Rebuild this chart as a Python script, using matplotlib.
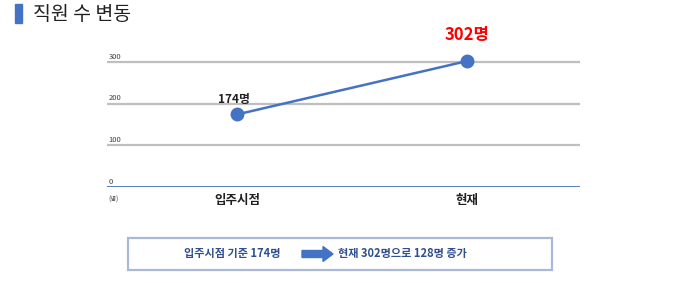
import matplotlib
matplotlib.use("Agg")
import matplotlib.pyplot as plt
from matplotlib.patches import Rectangle, FancyArrow

plt.rcParams['font.family'] = ['Noto Sans CJK KR', 'DejaVu Sans']

categories = ['입주시점', '현재']
values = [174, 302]
value_labels = ['174명', '302명']
yticks = [0, 100, 200, 300]
title = '직원 수 변동'
unit = '(명)'
summary_left = '입주시점 기준 174명'
summary_right = '현재 302명으로 128명 증가'

W, H = 680, 283
fig = plt.figure(figsize=(W/100, H/100), dpi=100)
fig.patch.set_facecolor('white')

ax_left, ax_right = 107, 580
y0_px = 187
per100 = 41.7
ymax = 330
top_px = y0_px - ymax/100*per100
ax = fig.add_axes([ax_left/W, 1 - y0_px/H, (ax_right-ax_left)/W, (y0_px-top_px)/H])
ax.set_ylim(0, ymax)
x0, x1 = 237, 467
unit_px = x1 - x0
ax.set_xlim(-(x0-ax_left)/unit_px, 1 + (ax_right-x1)/unit_px)
for s in ax.spines.values():
    s.set_visible(False)
ax.set_xticks([]); ax.set_yticks([])
ax.patch.set_alpha(0)

for t in yticks[1:]:
    ax.axhline(t, color='#BFBFBF', lw=1.6, zorder=1)
ax.axhline(0, color='#4472C4', lw=2, zorder=1)
for t in yticks:
    ax.annotate(str(t), xy=(0, t), xycoords=('axes fraction', 'data'),
                xytext=(1, 1), textcoords='offset points', fontsize=5.5,
                color='#404040', ha='left', va='bottom')
ax.annotate(unit, xy=(0, 0), xycoords=('axes fraction', 'data'),
            xytext=(1, -6), textcoords='offset points', fontsize=4.5,
            color='#404040', ha='left', va='top')

xs = list(range(len(categories)))
ax.plot(xs, values, color='#4472C4', lw=1.8, zorder=3)
ax.plot(xs, values, 'o', color='#4472C4', ms=9, zorder=4)
ax.annotate(value_labels[0], xy=(xs[0], values[0]), xytext=(-2, 6),
            textcoords='offset points', ha='center', va='bottom',
            fontsize=8.5, fontweight='bold', color='#202020')
ax.annotate(value_labels[1], xy=(xs[1], values[1]), xytext=(0, 12),
            textcoords='offset points', ha='center', va='bottom',
            fontsize=12, fontweight='bold', color='#FF0000')
for x, c in zip(xs, categories):
    ax.annotate(c, xy=(x, 0), xytext=(0, -5), textcoords='offset points',
                ha='center', va='top', fontsize=9, fontweight='bold',
                color='#202020')

# title
fig.patches.append(Rectangle((15/W, 1-23/H), 7/W, 19/H, transform=fig.transFigure,
                             color='#4472C4', zorder=5))
fig.text(33/W, 1-14/H, title, fontsize=14, va='center', ha='left', color='#202020')

# summary box
fig.patches.append(Rectangle((128/W, 1-270/H), (552-128)/W, 32/H,
                             transform=fig.transFigure, facecolor='white',
                             edgecolor='#A9B8D6', lw=1.6, zorder=5))
fig.text(232/W, 1-254/H, summary_left, fontsize=8, ha='center', va='center',
         color='#2F4F8F', fontweight='bold', zorder=6)
fig.patches.append(FancyArrow(302/W, 1-254/H, 21/W, 0, width=7/H, head_width=15/H,
                              head_length=10/W, transform=fig.transFigure,
                              color='#4472C4', zorder=6, length_includes_head=False))
fig.text(338/W, 1-254/H, summary_right, fontsize=8, ha='left', va='center',
         color='#2F4F8F', fontweight='bold', zorder=6)

fig.savefig('out.png', dpi=100, facecolor='white')
